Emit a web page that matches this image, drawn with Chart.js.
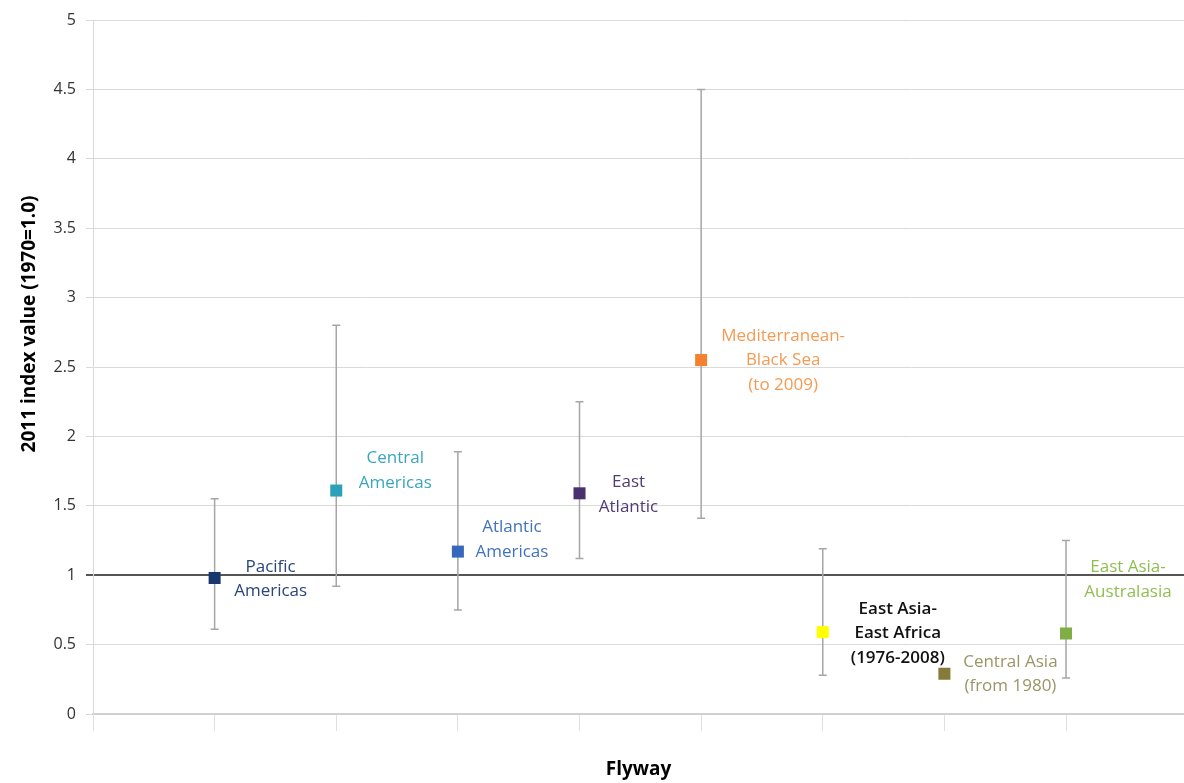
<!DOCTYPE html>
<html>
<head>
<meta charset="utf-8">
<script src="https://cdn.jsdelivr.net/npm/chart.js@4"></script>
<style>
  html, body { margin: 0; padding: 0; background: #fff; }
  #wrap { width: 1184px; height: 783px; }
</style>
</head>
<body>
<div id="wrap"><canvas id="chart" width="1184" height="783"></canvas></div>
<script>
const flyways = [
  ["Pacific", "Americas"],
  ["Central", "Americas"],
  ["Atlantic", "Americas"],
  ["East", "Atlantic"],
  ["Mediterranean-", "Black Sea", "(to 2009)"],
  ["East Asia-", "East Africa", "(1976-2008)"],
  ["Central Asia", "(from 1980)"],
  ["East Asia-", "Australasia"]
];
const positions = [1, 2, 3, 4, 5, 6, 7, 8];
const indexValues = [0.98, 1.61, 1.17, 1.59, 2.55, 0.59, 0.29, 0.58];
const lowValues = [0.61, 0.92, 0.75, 1.12, 1.41, 0.28, null, 0.26];
const highValues = [1.55, 2.80, 1.89, 2.25, 4.50, 1.19, null, 1.25];
const yTicks = [0, 0.5, 1, 1.5, 2, 2.5, 3, 3.5, 4, 4.5, 5];
const yTitle = "2011 index value (1970=1.0)";

const markerColors = ["#18386c", "#2ba1b7", "#3669bd", "#4a306f", "#f4812f", "#ffff00", "#857b3a", "#80ae46"];
const labelColors = ["#28457c", "#3aa6bc", "#4073bf", "#4e3b78", "#f59a52", "#111111", "#9b9566", "#8fbf50"];
// label centre offset (px) from the marker, and first line offset
const labelOffsets = [[56, -11], [59, -32], [54, -24], [49, -11], [82, -24], [75, -23], [66, -12], [62, -66]];

const errorBars = {
  id: "errorBars",
  beforeDatasetsDraw(chart) {
    const { ctx, scales: { x, y } } = chart;
    ctx.save();
    ctx.strokeStyle = "#a6a6a6";
    ctx.lineWidth = 1.5;
    positions.forEach((p, i) => {
      if (lowValues[i] == null) return;
      const px = x.getPixelForValue(p);
      const top = y.getPixelForValue(highValues[i]);
      const bot = y.getPixelForValue(lowValues[i]);
      ctx.beginPath();
      ctx.moveTo(px, top); ctx.lineTo(px, bot);
      ctx.moveTo(px - 4, top); ctx.lineTo(px + 4, top);
      ctx.moveTo(px - 4, bot); ctx.lineTo(px + 4, bot);
      ctx.stroke();
    });
    ctx.restore();
  }
};

const pointLabels = {
  id: "pointLabels",
  afterDatasetsDraw(chart) {
    const { ctx, chartArea, scales: { x, y } } = chart;
    ctx.save();
    ctx.textAlign = "center";
    ctx.textBaseline = "middle";
    positions.forEach((p, i) => {
      const px = x.getPixelForValue(p);
      const py = y.getPixelForValue(indexValues[i]);
      ctx.fillStyle = labelColors[i];
      ctx.font = i === 5 ? "600 17px 'Open Sans', sans-serif" : "17px 'Open Sans', sans-serif";
      flyways[i].forEach((line, j) => {
        ctx.fillText(line, px + labelOffsets[i][0], py + labelOffsets[i][1] + j * 24.5);
      });
    });
    // y axis title, sits a little above the middle like in the original
    ctx.translate(30, chartArea.top + chartArea.height * 0.438);
    ctx.rotate(-Math.PI / 2);
    ctx.fillStyle = "#000";
    ctx.font = "bold 19px 'Open Sans', sans-serif";
    ctx.fillText(yTitle, 0, 0);
    ctx.restore();
  }
};

new Chart(document.getElementById("chart"), {
  type: "scatter",
  data: {
    datasets: [{
      label: "2011 index value",
      data: positions.map((p, i) => ({ x: p, y: indexValues[i] })),
      pointStyle: "rect",
      pointRadius: 8.5,
      pointHoverRadius: 8.5,
      backgroundColor: markerColors,
      borderColor: markerColors,
      borderWidth: 0
    }]
  },
  options: {
    responsive: false,
    animation: false,
    layout: { autoPadding: false, padding: { top: 20, right: 0, left: 0, bottom: 0 } },
    plugins: {
      legend: { display: false },
      tooltip: { enabled: false }
    },
    scales: {
      x: {
        type: "linear",
        min: 0,
        max: 8.97,
        afterBuildTicks: s => { s.ticks = [0].concat(positions).map(v => ({ value: v })); },
        afterFit: s => { s.height = 69; },
        ticks: { callback: () => "", padding: 0 },
        grid: { drawOnChartArea: false, drawTicks: true, tickLength: 17, color: "#e0e0e0", lineWidth: 1 },
        border: { color: "#d0d0d0", width: 2 },
        title: {
          display: true,
          text: "Flyway",
          color: "#000",
          font: { family: "'Open Sans', sans-serif", size: 19, weight: "bold" },
          padding: { top: 0, bottom: 2 }
        }
      },
      y: {
        min: 0,
        max: 5,
        afterBuildTicks: s => { s.ticks = yTicks.map(v => ({ value: v })); },
        afterFit: s => { s.width = 93; },
        ticks: {
          color: "#333",
          font: { family: "'Open Sans', sans-serif", size: 16 },
          padding: 10,
          callback: v => String(v)
        },
        grid: {
          tickLength: 7,
          color: c => c.tick && c.tick.value === 1 ? "#555555" : "#d9d9d9",
          lineWidth: c => c.tick && c.tick.value === 1 ? 2 : 1
        },
        border: { color: "#d9d9d9", width: 1 },
        title: { display: false, text: yTitle }
      }
    }
  },
  plugins: [errorBars, pointLabels]
});
</script>
</body>
</html>
